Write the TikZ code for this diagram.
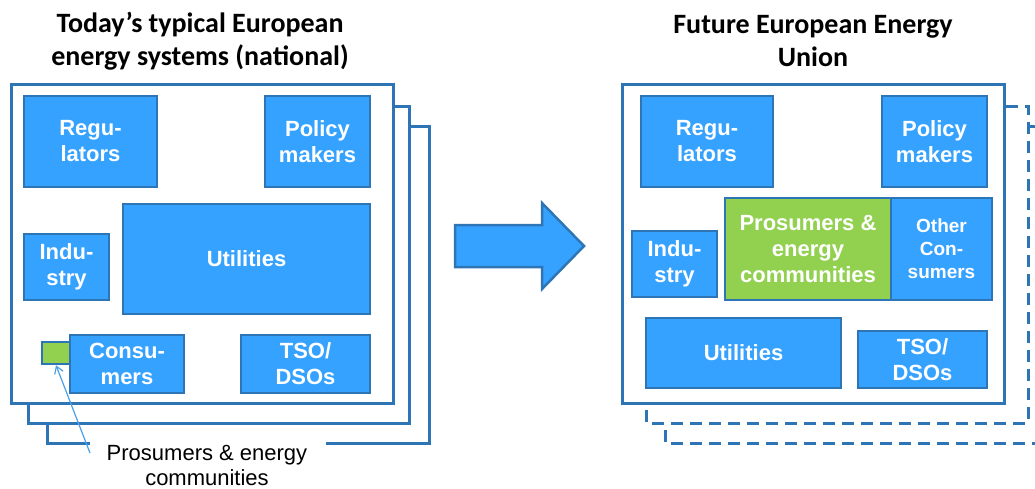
\documentclass[tikz,border=0pt]{standalone}
\usepackage{fontspec}
\setmainfont{Liberation Sans}
\newfontfamily\titlefont{Carlito}
\usetikzlibrary{arrows.meta}
\definecolor{boxblue}{HTML}{36A2FF}
\definecolor{bord}{HTML}{2E75B6}
\definecolor{frmblue}{HTML}{2E75B6}
\definecolor{grn}{HTML}{92D050}
\definecolor{lblue}{HTML}{4A9FE8}
\tikzset{
  bx/.style={draw=bord, fill=boxblue, line width=2.5pt, text=white,
    font=\bfseries\fontsize{22}{26}\selectfont, align=center, inner sep=0pt},
  gbx/.style={bx, fill=grn},
  frm/.style={draw=frmblue, line width=3pt},
  dfrm/.style={frm, dash pattern=on 12pt off 7pt},
  ttl/.style={font=\titlefont\bfseries\fontsize{28}{33}\selectfont, align=center},
  lbl/.style={font=\fontsize{22}{25}\selectfont, align=center},
}
\begin{document}
\begin{tikzpicture}[x=1pt,y=-1pt]
\useasboundingbox (0,0) rectangle (1035,488);
\clip (0,0) rectangle (1035,488);
% titles
\node[ttl] (t1) at (200,41) {Today’s typical European\\energy systems (national)};
\node[ttl] (t2) at (813,41) {Future European Energy\\Union};
% left frames
\draw[frm] (90,443) -- (47,443) -- (47,126) -- (429,126) -- (429,443) -- (326,443);
\draw[frm, fill=white] (28,106) rectangle (409,423);
\draw[frm, fill=white] (11,84) rectangle (393,403);
% left boxes
\node[bx, minimum width=133pt, minimum height=91pt] (regL) at (90.5,141.5) {Regu-\\lators};
\node[bx, minimum width=105pt, minimum height=91pt] (polL) at (317.5,141.5) {Policy\\makers};
\node[bx, minimum width=85pt, minimum height=66pt] (indL) at (66.5,267) {Indu-\\stry};
\node[bx, minimum width=247pt, minimum height=110pt] (utilL) at (246.5,259) {Utilities};
\node[gbx, minimum width=28pt, minimum height=22pt] (gsm) at (56,353) {};
\node[bx, minimum width=114pt, minimum height=58pt] (consL) at (127,364) {Consu-\\mers};
\node[bx, minimum width=129pt, minimum height=58pt] (tsoL) at (305.5,364) {TSO/\\DSOs};
% label
\node[lbl] (plab) at (207,465) {Prosumers \& energy\\communities};
\coordinate (pstart) at (90,453);
\draw[lblue, line width=1.2pt, -{Straight Barb[length=7pt,width=9pt]}] (pstart) -- (gsm.south);
% big arrow
\draw[bord, fill=boxblue, line width=2.5pt, line join=miter]
  (455,225) -- (542,225) -- (542,203) -- (584,246) -- (542,289) -- (542,267) -- (455,267) -- cycle;
% right frames
\draw[dfrm, fill=white] (665,126) rectangle (1047,443);
\draw[dfrm, fill=white] (646,106) rectangle (1028,423);
\draw[frm, fill=white] (622,84) rectangle (1004,403);
% right boxes
\node[bx, minimum width=132pt, minimum height=91pt] (regR) at (707,141.5) {Regu-\\lators};
\node[bx, minimum width=105pt, minimum height=91pt] (polR) at (934.5,141.5) {Policy\\makers};
\node[bx, minimum width=85pt, minimum height=66pt] (indR) at (674.5,264) {Indu-\\stry};
\node[gbx, minimum width=166pt, minimum height=102pt] (prosR) at (808,249) {Prosumers \&\\energy\\communities};
\node[bx, minimum width=101pt, minimum height=102pt, font=\bfseries\fontsize{19}{23}\selectfont] (othR) at (941.5,249) {Other\\Con-\\sumers};
\node[bx, minimum width=195pt, minimum height=70pt] (utilR) at (743.5,353) {Utilities};
\node[bx, minimum width=129pt, minimum height=57pt] (tsoR) at (922.5,359.5) {TSO/\\DSOs};
\end{tikzpicture}
\end{document}
